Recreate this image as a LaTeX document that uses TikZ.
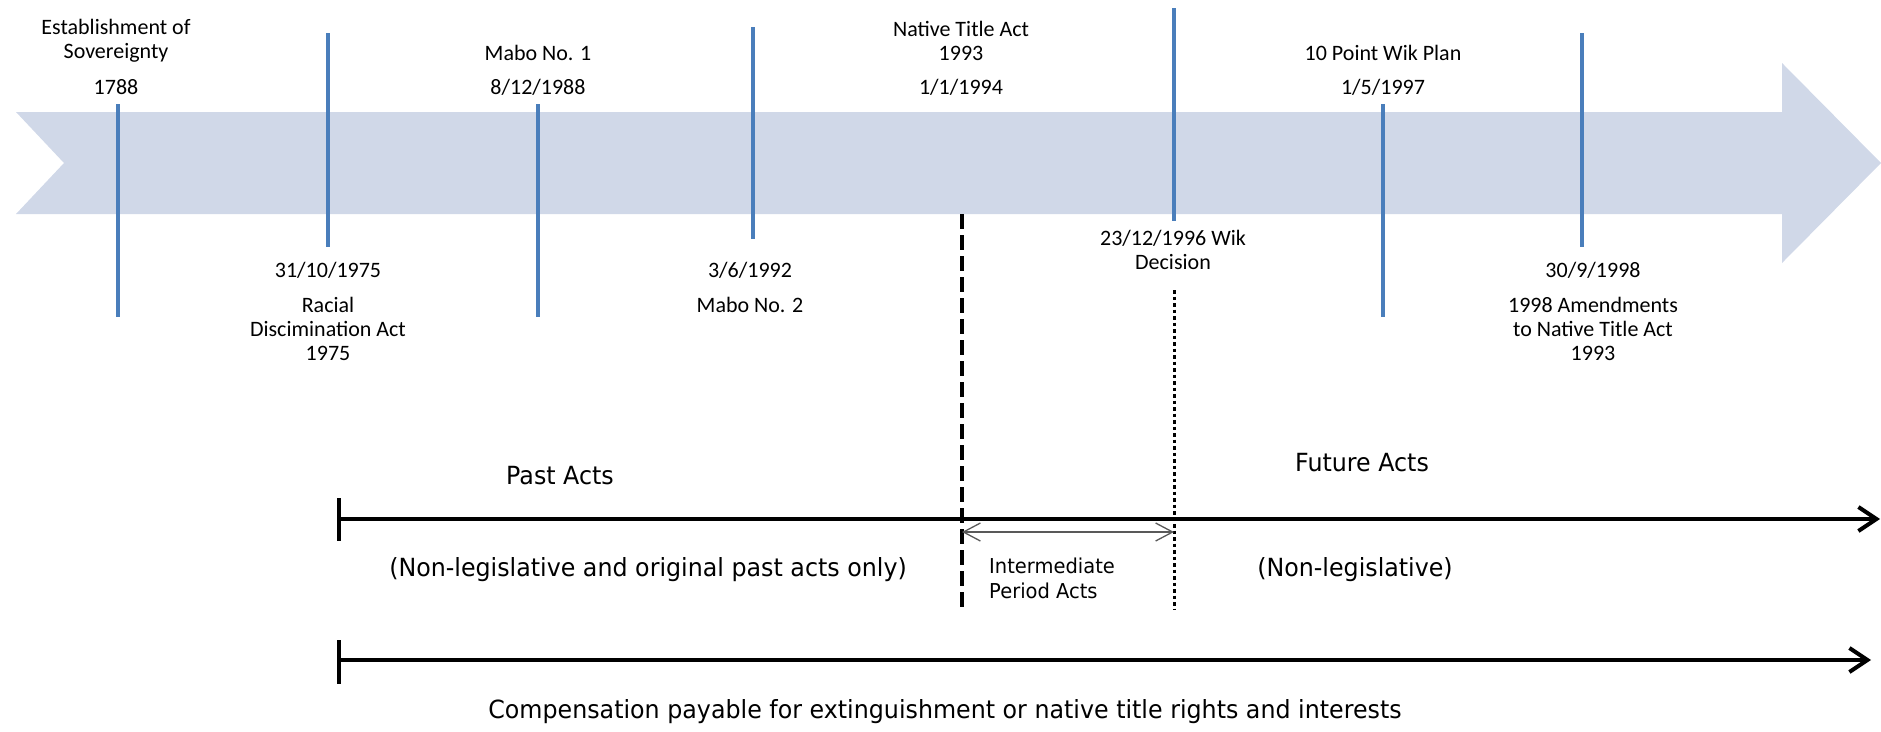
\documentclass[tikz,border=0pt]{standalone}
\usepackage{fontspec}
\setmainfont{Carlito}
\newfontfamily\tahfont[FakeStretch=0.95]{DejaVu Sans}
\usetikzlibrary{arrows.meta}
\definecolor{bandcol}{HTML}{D0D8E8}
\definecolor{tickcol}{HTML}{4A7EBB}
\begin{document}
\begin{tikzpicture}[x=1pt,y=-1pt,
  toplabel/.style={font=\fontsize{22}{24}\selectfont, align=center, inner sep=0pt, text=black},
  lowlabel/.style={font=\tahfont\fontsize{25}{30}\selectfont, align=center, inner sep=0pt, text=black},
  smalllabel/.style={font=\tahfont\fontsize{20.5}{25}\selectfont, align=left, inner sep=0pt, text=black},
  evline/.style={draw=tickcol, line width=3.3pt},
  period/.style={draw=black, line width=4pt},
  bigarrow/.style={period, -{Straight Barb[length=18pt,width=24pt,line width=4pt]}},
  divdash/.style={draw=black, line width=4pt, dash pattern=on 15pt off 6pt},
  divdot/.style={draw=black, line width=3pt, dash pattern=on 3.5pt off 3pt},
  interarrow/.style={draw=black!65, line width=1.3pt, {Straight Barb[length=17pt,width=18pt]}-{Straight Barb[length=17pt,width=18pt]}}
]
\useasboundingbox (0,0) rectangle (1881,731);
% band arrow
\fill[bandcol] (16,112) -- (1782,112) -- (1782,63) -- (1881,163) -- (1782,263) -- (1782,214) -- (16,214) -- (64,163) -- cycle;
% event lines
\coordinate (e1t) at (118,104); \coordinate (e1b) at (118,317);
\coordinate (e2t) at (328,33);  \coordinate (e2b) at (328,247);
\coordinate (e3t) at (538,104); \coordinate (e3b) at (538,317);
\coordinate (e4t) at (753,27);  \coordinate (e4b) at (753,239);
\coordinate (e5t) at (1174,8);  \coordinate (e5b) at (1174,221);
\coordinate (e6t) at (1383,104); \coordinate (e6b) at (1383,317);
\coordinate (e7t) at (1582,33); \coordinate (e7b) at (1582,247);
\foreach \i in {1,...,7} \draw[evline] (e\i t) -- (e\i b);
% top labels
\node[toplabel] (l1a) at (116,41) {Establishment of\\Sovereignty};
\node[toplabel] (l1b) at (116,87) {1788};
\node[toplabel] (l3a) at (538,53) {Mabo No. 1};
\node[toplabel] (l3b) at (538,87) {8/12/1988};
\node[toplabel] (lna) at (961,41) {Native Title Act\\1993};
\node[toplabel] (lnb) at (961,87) {1/1/1994};
\node[toplabel] (l6a) at (1383,53) {10 Point Wik Plan};
\node[toplabel] (l6b) at (1383,87) {1/5/1997};
% bottom labels
\node[toplabel] (l2a) at (328,270) {31/10/1975};
\node[toplabel] (l2b) at (328,329) {Racial\\Discimination Act\\1975};
\node[toplabel] (l4a) at (750,270) {3/6/1992};
\node[toplabel] (l4b) at (750,305) {Mabo No. 2};
\node[toplabel] (l5a) at (1173,249.5) {23/12/1996 Wik\\Decision};
\node[toplabel] (l7a) at (1593,270) {30/9/1998};
\node[toplabel] (l7b) at (1593,329) {1998 Amendments\\to Native Title Act\\1993};
% periods
\coordinate (pa0) at (339,519); \coordinate (pa1) at (1880,519);
\coordinate (pat) at (339,498); \coordinate (pab) at (339,541);
\draw[period] (pat) -- (pab);
\draw[bigarrow] (pa0) -- (pa1);
\coordinate (cp0) at (339,660); \coordinate (cp1) at (1871,660);
\coordinate (cpt) at (339,640); \coordinate (cpb) at (339,684);
\draw[period] (cpt) -- (cpb);
\draw[bigarrow] (cp0) -- (cp1);
\coordinate (d0) at (962,214); \coordinate (d1) at (962,612);
\draw[divdash] (d0) -- (d1);
\coordinate (w0) at (1174,290); \coordinate (w1) at (1174,610);
\draw[divdot] (w0) -- (w1);
\coordinate (ia) at (962,532); \coordinate (ib) at (1174,532);
\draw[interarrow] (ia) -- (ib);
\node[lowlabel] (past) at (560,476) {Past Acts};
\node[lowlabel] (pastn) at (648,570) {(Non-legislative and original past acts only)};
\node[lowlabel] (fut) at (1362,463) {Future Acts};
\node[lowlabel] (futn) at (1355,570) {(Non-legislative)};
\node[smalllabel, anchor=west] (inter) at (989,578) {Intermediate\\Period Acts};
\node[lowlabel] (comp) at (945,712) {Compensation payable for extinguishment or native title rights and interests};
\end{tikzpicture}
\end{document}
